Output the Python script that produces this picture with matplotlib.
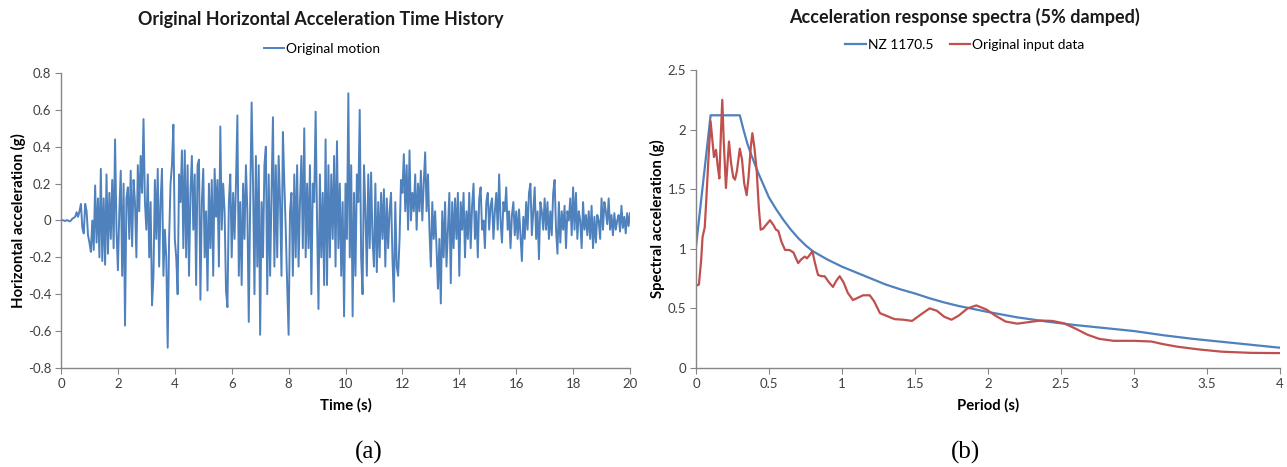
import numpy as np
import matplotlib
matplotlib.use("Agg")
import matplotlib.pyplot as plt

# ---------------- data ----------------
dt = 0.05
accel_rows = [
    [0.0, 0.002, 0.0, -0.003, 0.002, 0.0, -0.005, 0.0, 0.01, 0.015, 0.02, 0.045, 0.02, 0.05, 0.09, -0.04, -0.07, 0.09, 0.05, -0.08],
    [-0.12, -0.17, 0.0, -0.16, 0.19, -0.12, 0.12, -0.2, 0.28, -0.22, 0.12, -0.24, 0.25, -0.18, 0.15, -0.1, 0.22, -0.15, 0.44, -0.05],
    [-0.27, 0.05, 0.27, -0.3, 0.2, -0.57, 0.12, 0.18, -0.1, 0.27, -0.14, 0.22, 0.1, -0.2, 0.3, 0.05, 0.35, 0.15, 0.55, 0.1],
    [-0.05, 0.25, -0.2, 0.1, -0.46, -0.3, 0.22, -0.1, 0.28, -0.25, 0.1, 0.28, -0.3, -0.05, -0.2, -0.69, -0.1, 0.2, 0.3, 0.52],
    [-0.1, -0.2, -0.4, 0.25, 0.1, 0.38, -0.15, 0.38, -0.2, 0.3, -0.3, 0.15, 0.35, -0.05, 0.25, -0.35, 0.3, 0.33, -0.43, 0.1],
    [0.28, -0.2, 0.05, -0.38, 0.2, -0.15, 0.22, -0.3, 0.28, 0.02, 0.22, -0.25, 0.51, -0.05, 0.2, 0.05, -0.38, -0.47, 0.1, 0.25],
    [-0.2, 0.15, -0.1, 0.2, 0.57, -0.3, 0.1, -0.35, 0.2, -0.1, 0.3, 0.05, -0.55, 0.1, 0.64, 0.2, -0.4, 0.35, -0.25, 0.3],
    [-0.62, 0.1, -0.2, 0.3, 0.4, -0.4, 0.25, -0.3, 0.15, 0.56, -0.25, 0.3, -0.2, 0.35, 0.1, -0.3, 0.48, 0.2, -0.05, -0.35],
    [-0.62, 0.05, 0.15, -0.3, 0.25, -0.2, 0.3, -0.25, 0.1, 0.35, -0.15, 0.5, -0.2, 0.2, -0.15, 0.3, -0.4, 0.2, 0.1, 0.59],
    [0.0, -0.48, 0.25, -0.2, 0.15, -0.35, 0.44, -0.35, 0.3, -0.2, 0.25, -0.1, 0.35, -0.25, 0.43, -0.15, 0.2, -0.3, 0.1, -0.52],
    [0.2, -0.1, 0.69, -0.2, 0.3, -0.52, 0.15, -0.3, 0.25, 0.1, 0.6, -0.2, -0.4, 0.3, 0.05, -0.3, 0.25, -0.15, 0.26, -0.1],
    [-0.25, 0.2, -0.28, 0.1, -0.2, 0.15, -0.1, 0.17, -0.25, 0.12, -0.15, 0.05, 0.15, -0.2, -0.44, 0.1, -0.25, -0.3, -0.1, 0.22],
    [0.15, 0.36, 0.05, 0.3, -0.05, 0.38, 0.0, 0.15, 0.05, 0.25, -0.05, 0.2, 0.05, 0.27, 0.0, 0.2, 0.37, 0.05, 0.25, -0.05],
    [-0.25, 0.1, -0.1, 0.05, -0.15, -0.37, -0.1, -0.45, 0.05, -0.2, 0.1, -0.25, -0.05, 0.15, -0.34, 0.1, -0.15, 0.12, -0.1, 0.15],
    [-0.3, 0.1, -0.05, 0.15, -0.2, 0.05, -0.1, 0.15, -0.15, 0.08, 0.2, -0.1, 0.05, -0.2, 0.12, 0.18, -0.05, 0.0, -0.15, 0.1],
    [0.15, -0.05, 0.08, 0.12, -0.1, 0.05, 0.15, -0.05, 0.25, 0.0, -0.12, 0.1, 0.05, 0.18, -0.05, 0.05, -0.15, 0.03, 0.1, -0.08],
    [0.05, -0.1, 0.06, -0.08, -0.22, 0.02, -0.1, 0.1, -0.05, 0.15, 0.2, -0.08, 0.05, 0.18, -0.1, 0.05, -0.21, 0.1, 0.05, -0.05],
    [0.12, -0.05, 0.1, -0.1, 0.05, -0.08, 0.15, 0.22, -0.05, -0.18, 0.1, -0.12, 0.05, -0.05, 0.08, -0.15, 0.05, 0.0, 0.12, -0.08],
    [0.18, -0.05, 0.15, -0.1, 0.05, 0.0, -0.15, 0.1, -0.05, 0.03, -0.08, 0.05, -0.1, 0.08, -0.15, 0.02, -0.12, 0.03, 0.0, -0.1],
    [0.12, -0.05, 0.1, 0.05, -0.02, 0.12, -0.05, 0.03, -0.08, 0.04, -0.05, 0.0, 0.03, -0.06, 0.08, -0.04, 0.02, -0.07, 0.04, -0.03],
    [0.04],
]
accel = [v for row in accel_rows for v in row]
time = [i * dt for i in range(len(accel))]

nz_period = [0, 0.1, 0.3, 0.325, 0.35, 0.375, 0.4, 0.425, 0.45, 0.475, 0.5, 0.55, 0.6, 0.65, 0.7,
             0.75, 0.8, 0.9, 1.0, 1.1, 1.2, 1.3, 1.4, 1.5, 1.6, 1.7, 1.8, 1.9, 2.0, 2.2, 2.4, 2.6,
             2.8, 3.0, 3.2, 3.4, 3.6, 3.8, 4.0]
nz_sa = [1.02, 2.12, 2.12, 2.00, 1.89, 1.80, 1.72, 1.64, 1.57, 1.50, 1.43, 1.33, 1.24, 1.16, 1.09,
         1.03, 0.98, 0.91, 0.85, 0.80, 0.75, 0.70, 0.66, 0.625, 0.585, 0.55, 0.52, 0.495, 0.47,
         0.425, 0.39, 0.36, 0.335, 0.31, 0.275, 0.245, 0.22, 0.195, 0.17]

orig_period = [0.0, 0.02, 0.035, 0.045, 0.06, 0.07, 0.085, 0.1, 0.113, 0.123, 0.137, 0.148, 0.16, 0.17,
               0.18, 0.19, 0.205, 0.215, 0.226, 0.24, 0.255, 0.267, 0.28, 0.3, 0.315, 0.33, 0.347, 0.36,
               0.375, 0.386, 0.4, 0.416, 0.43, 0.443, 0.46, 0.48, 0.507, 0.53, 0.548, 0.564, 0.585, 0.61,
               0.64, 0.667, 0.685, 0.70, 0.72, 0.745, 0.76, 0.78, 0.797, 0.815, 0.836, 0.86, 0.881, 0.91,
               0.938, 0.96, 0.984, 1.01, 1.04, 1.075, 1.11, 1.144, 1.19, 1.22, 1.26, 1.30, 1.36, 1.42,
               1.48, 1.53, 1.60, 1.65, 1.70, 1.75, 1.80, 1.86, 1.92, 1.99, 2.05, 2.12, 2.20, 2.28, 2.36,
               2.44, 2.52, 2.60, 2.68, 2.76, 2.86, 3.0, 3.12, 3.2, 3.3, 3.45, 3.6, 3.8, 4.0]
orig_sa = [0.69, 0.70, 0.90, 1.10, 1.18, 1.40, 1.75, 2.07, 1.90, 1.77, 1.83, 1.70, 1.59, 1.95,
           2.25, 1.90, 1.51, 1.70, 1.90, 1.72, 1.60, 1.58, 1.65, 1.84, 1.75, 1.55, 1.45, 1.60,
           1.85, 1.97, 1.85, 1.65, 1.35, 1.16, 1.17, 1.20, 1.24, 1.20, 1.16, 1.15, 1.06, 0.99,
           0.99, 0.97, 0.92, 0.88, 0.91, 0.935, 0.92, 0.95, 0.98, 0.88, 0.78, 0.77, 0.77, 0.72,
           0.68, 0.73, 0.77, 0.72, 0.63, 0.57, 0.59, 0.61, 0.61, 0.56, 0.46, 0.44, 0.41, 0.405,
           0.395, 0.44, 0.50, 0.48, 0.43, 0.405, 0.44, 0.50, 0.525, 0.49, 0.44, 0.39, 0.372, 0.385, 0.398,
           0.395, 0.375, 0.33, 0.28, 0.245, 0.228, 0.228, 0.222, 0.20, 0.178, 0.155, 0.137, 0.127, 0.125]

time_ticks = list(range(0, 21, 2))
accel_ticks = [-0.8, -0.6, -0.4, -0.2, 0, 0.2, 0.4, 0.6, 0.8]
period_ticks = [0, 0.5, 1, 1.5, 2, 2.5, 3, 3.5, 4]
sa_ticks = [0, 0.5, 1, 1.5, 2, 2.5]

# ---------------- style ----------------
plt.rcParams['font.family'] = ['Lato', 'DejaVu Sans']
BLUE = '#4F81BD'
RED = '#C0504D'
SPINE = '#868686'
TICKC = '#404040'

W, H = 1287, 467
fig = plt.figure(figsize=(W / 100, H / 100), dpi=100)

def fmt(v):
    return '%g' % v

def style_axes(ax):
    for s in ['top', 'right']:
        ax.spines[s].set_visible(False)
    for s in ['left', 'bottom']:
        ax.spines[s].set_color(SPINE)
        ax.spines[s].set_linewidth(1.0)
    ax.tick_params(axis='both', direction='out', length=4, width=0.8, color=SPINE,
                   labelsize=9.5, labelcolor=TICKC, pad=3)

# left axes
ax1 = fig.add_axes([61 / W, 1 - 368 / H, (630 - 61) / W, (368 - 73) / H])
ax1.plot(time, accel, color=BLUE, lw=1.4, label='Original motion')
ax1.set_xlim(0, 20)
ax1.set_ylim(-0.8, 0.8)
ax1.set_xticks(time_ticks)
ax1.set_xticklabels([fmt(v) for v in time_ticks])
ax1.set_yticks(accel_ticks)
ax1.set_yticklabels([fmt(v) for v in accel_ticks])
style_axes(ax1)
ax1.set_xlabel('Time (s)', fontsize=10.7, fontweight='bold', labelpad=6)
ax1.set_ylabel('Horizontal acceleration (g)', fontsize=10.7, fontweight='bold', labelpad=1)
fig.text(321 / W, 1 - 19 / H, 'Original Horizontal Acceleration Time History',
         ha='center', va='center', fontsize=12.9, fontweight='bold', color='#1a1a1a')
fig.legend(handles=ax1.get_lines(), loc='center', bbox_to_anchor=(322 / W, 1 - 49 / H),
           frameon=False, fontsize=9.9, handlelength=1.5, handletextpad=0.15, ncol=1)

# right axes
ax2 = fig.add_axes([696 / W, 1 - 368 / H, (1280 - 696) / W, (368 - 70) / H])
l1, = ax2.plot(nz_period, nz_sa, color=BLUE, lw=1.6, label='NZ 1170.5')
l2, = ax2.plot(orig_period, orig_sa, color=RED, lw=1.6, label='Original input data')
ax2.set_xlim(0, 4)
ax2.set_ylim(0, 2.5)
ax2.set_xticks(period_ticks)
ax2.set_xticklabels([fmt(v) for v in period_ticks])
ax2.set_yticks(sa_ticks)
ax2.set_yticklabels([fmt(v) for v in sa_ticks])
style_axes(ax2)
ax2.set_xlabel('Period (s)', fontsize=10.7, fontweight='bold', labelpad=6)
ax2.set_ylabel('Spectral acceleration (g)', fontsize=10.7, fontweight='bold', labelpad=2)
fig.text(964 / W, 1 - 17 / H, 'Acceleration response spectra (5% damped)',
         ha='center', va='center', fontsize=13, fontweight='bold', color='#1a1a1a')
fig.legend(handles=[l1, l2], loc='center', bbox_to_anchor=(965 / W, 1 - 45 / H),
           frameon=False, fontsize=9.9, handlelength=1.5, handletextpad=0.15, ncol=2,
           columnspacing=1.2)

# captions
fig.text(369 / W, 1 - 452 / H, '(a)', ha='center', va='center', fontsize=18,
         family='Liberation Serif')
fig.text(965 / W, 1 - 452 / H, '(b)', ha='center', va='center', fontsize=18,
         family='Liberation Serif')

fig.savefig('out.png', dpi=100)
